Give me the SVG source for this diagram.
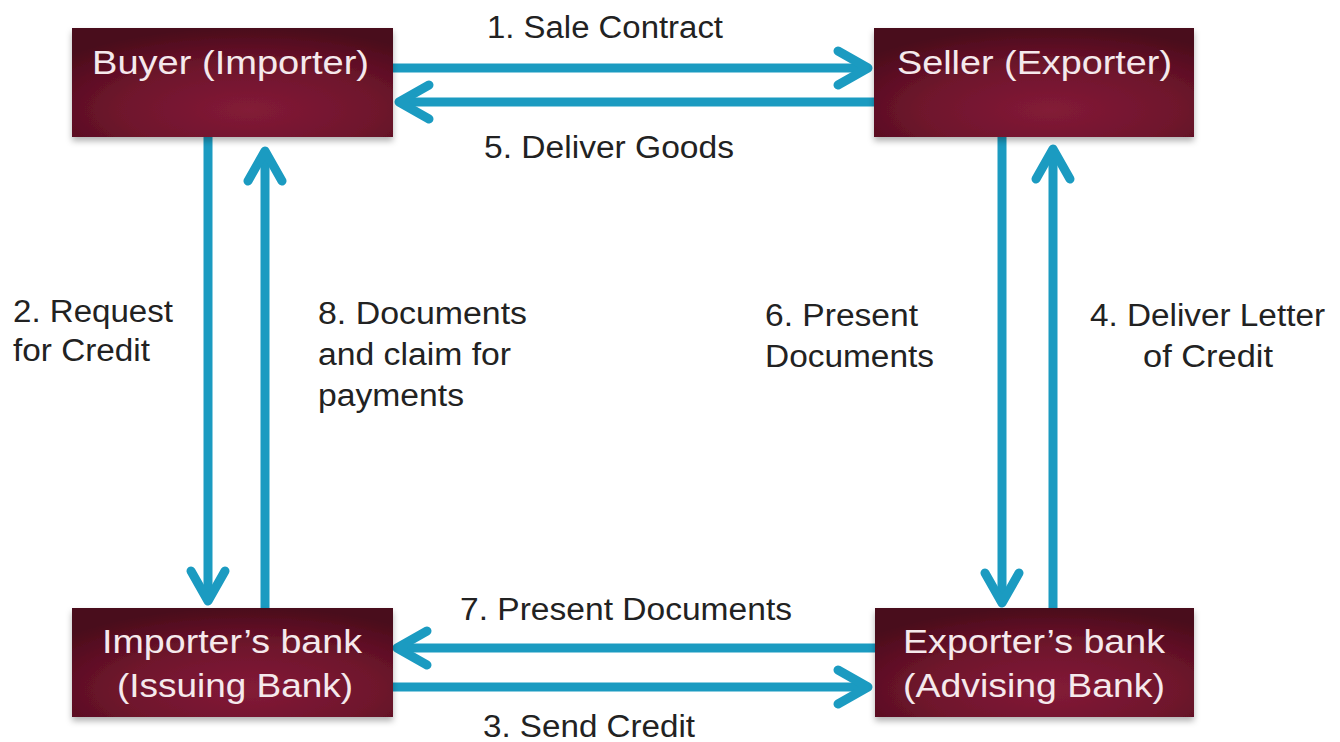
<svg xmlns="http://www.w3.org/2000/svg" width="1340" height="742" viewBox="0 0 1340 742">
<style>
.box{fill:url(#boxg);filter:url(#sh)}
.bt{font-family:"Liberation Sans",Arial,sans-serif;font-size:33px;fill:#f5e9ec}
.lb{font-family:"Liberation Sans",Arial,sans-serif;font-size:31px;fill:#222}
.ar{fill:none;stroke:#1b9bc1;stroke-width:9;marker-end:url(#chev)}
</style>
<defs>
<radialGradient id="boxg" cx="55%" cy="75%" r="75%">
<stop offset="0" stop-color="#831b37"/>
<stop offset="0.55" stop-color="#6e142c"/>
<stop offset="1" stop-color="#4a0a1b"/>
</radialGradient>
<filter id="sh" x="-10%" y="-10%" width="120%" height="130%">
<feDropShadow dx="0" dy="4" stdDeviation="3" flood-color="#000" flood-opacity="0.3"/>
</filter>
<marker id="chev" markerUnits="userSpaceOnUse" viewBox="-40 -30 60 60" markerWidth="60" markerHeight="60" refX="0" refY="0" orient="auto" overflow="visible">
<path d="M-26,-17 L4,0 L-26,17" fill="none" stroke="#1b9bc1" stroke-width="9" stroke-linecap="round" stroke-linejoin="round"/>
</marker>
</defs>
<rect width="1340" height="742" fill="#fff"/>
<g id="connectors">
<path class="ar" d="M392,68 H864"/>
<path class="ar" d="M875,102 H403"/>
<path class="ar" d="M208,137 V597"/>
<path class="ar" d="M265,608 V155"/>
<path class="ar" d="M1002,137 V599"/>
<path class="ar" d="M1053,608 V153"/>
<path class="ar" d="M875,648 H401"/>
<path class="ar" d="M392,687 H864"/>
</g>
<g id="buyer">
<rect class="box" x="72" y="28" width="321" height="109"/>
<text class="bt" x="92" y="74" textLength="277" lengthAdjust="spacingAndGlyphs">Buyer (Importer)</text>
</g>
<g id="seller">
<rect class="box" x="874" y="28" width="320" height="109"/>
<text class="bt" x="897" y="74" textLength="275" lengthAdjust="spacingAndGlyphs">Seller (Exporter)</text>
</g>
<g id="importers-bank">
<rect class="box" x="72" y="608" width="321" height="109"/>
<text class="bt" x="102" y="653" textLength="260" lengthAdjust="spacingAndGlyphs">Importer’s bank</text>
<text class="bt" x="117" y="697" textLength="236" lengthAdjust="spacingAndGlyphs">(Issuing Bank)</text>
</g>
<g id="exporters-bank">
<rect class="box" x="875" y="608" width="319" height="109"/>
<text class="bt" x="903" y="653" textLength="262" lengthAdjust="spacingAndGlyphs">Exporter’s bank</text>
<text class="bt" x="903" y="697" textLength="262" lengthAdjust="spacingAndGlyphs">(Advising Bank)</text>
</g>
<g id="labels">
<text class="lb" x="487" y="38" textLength="236" lengthAdjust="spacingAndGlyphs">1. Sale Contract</text>
<text class="lb" x="484" y="158" textLength="250" lengthAdjust="spacingAndGlyphs">5. Deliver Goods</text>
<text class="lb" x="13" y="322" textLength="160" lengthAdjust="spacingAndGlyphs">2. Request</text>
<text class="lb" x="13" y="361" textLength="137" lengthAdjust="spacingAndGlyphs">for Credit</text>
<text class="lb" x="318" y="324" textLength="209" lengthAdjust="spacingAndGlyphs">8. Documents</text>
<text class="lb" x="318" y="365" textLength="193" lengthAdjust="spacingAndGlyphs">and claim for</text>
<text class="lb" x="318" y="406" textLength="146" lengthAdjust="spacingAndGlyphs">payments</text>
<text class="lb" x="765" y="326" textLength="153" lengthAdjust="spacingAndGlyphs">6. Present</text>
<text class="lb" x="765" y="367" textLength="169" lengthAdjust="spacingAndGlyphs">Documents</text>
<text class="lb" x="1090" y="326" textLength="235" lengthAdjust="spacingAndGlyphs">4. Deliver Letter</text>
<text class="lb" x="1143" y="367" textLength="130" lengthAdjust="spacingAndGlyphs">of Credit</text>
<text class="lb" x="460" y="620" textLength="332" lengthAdjust="spacingAndGlyphs">7. Present Documents</text>
<text class="lb" x="483" y="737" textLength="212" lengthAdjust="spacingAndGlyphs">3. Send Credit</text>
</g>
</svg>
